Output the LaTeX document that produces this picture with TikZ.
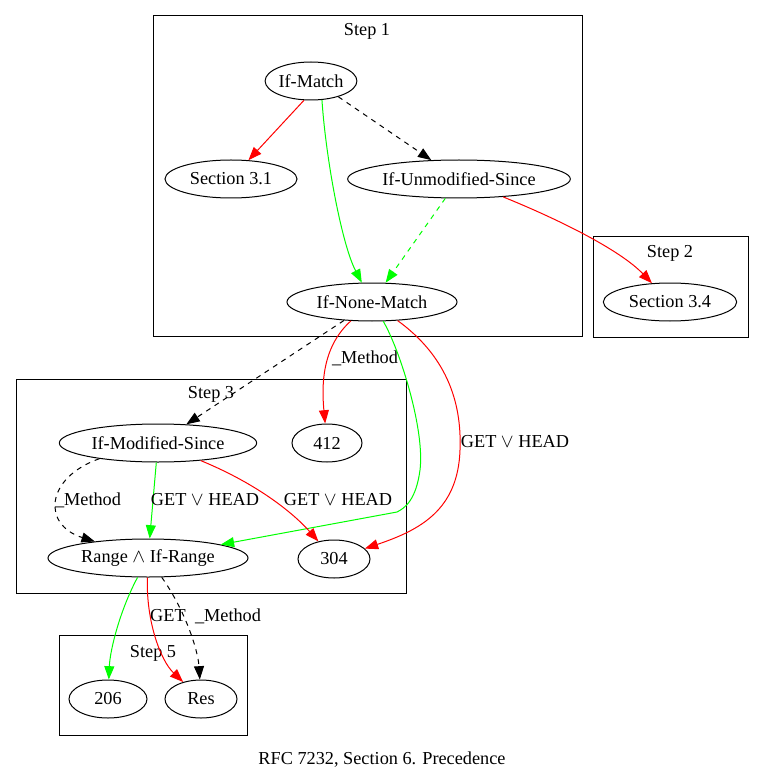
\documentclass[tikz,border=0pt]{standalone}
\usepackage{fontspec}
\setmainfont{Liberation Serif}
\usetikzlibrary{shapes.geometric,arrows.meta}

\begin{document}
\begin{tikzpicture}[x=0.75pt,y=-0.75pt,
        font=\fontsize{13.7}{16}\selectfont,
        state/.style={draw,ellipse,line width=0.75pt,inner sep=0pt,minimum height=28.5pt},
        cluster/.style={draw,line width=0.75pt},
        edge/.style={line width=0.75pt,-{Triangle[length=10pt,width=7.5pt]}},
        dashedge/.style={edge,dash pattern=on 3.75pt off 3.75pt},
        lbl/.style={inner sep=1pt}]
        \useasboundingbox (0,0) rectangle (764,780);
        % clusters
        \draw [cluster] (153,16) rectangle (582,336);
        \node (stepone) at (367,31) {Step 1};
        \draw [cluster] (593,237) rectangle (748,337);
        \node (steptwo) at (670,253) {Step 2};
        \draw [cluster] (16,379) rectangle (406,593);
        \node (stepthree) at (211,394) {Step 3};
        \draw [cluster] (59,635) rectangle (247,735);
        \node (stepfive) at (153,653) {Step 5};
        % nodes
        \node [state,minimum width=67.5pt] (ifmatch) at (311,81) {If-Match};
        \node [state,minimum width=99pt] (secthreeone) at (231,179) {Section 3.1};
        \node [state,minimum width=167pt] (ifunmod) at (459,179) {If-Unmodified-Since};
        \node [state,minimum width=127.5pt] (ifnone) at (372,302) {If-None-Match};
        \node [state,minimum width=100pt] (secthreefour) at (670,302) {Section 3.4};
        \node [state,minimum width=148pt] (ifmod) at (158,443) {If-Modified-Since};
        \node [state,minimum width=52.5pt] (pf) at (327,443) {412};
        \node [state,minimum width=150pt] (range) at (148,558) {Range $\wedge$ If-Range};
        \node [state,minimum width=54pt] (nm) at (334,559) {304};
        \node [state,minimum width=58.5pt] (partial) at (108,699) {206};
        \node [state,minimum width=54pt] (res) at (201,699) {Res};
        % step 1 and 2
        \draw [edge,red] (ifmatch.-110) -- (secthreeone);
        \draw [dashedge] (ifmatch.-30) -- (ifunmod);
        \draw [edge,green] (ifmatch.-60) .. controls (326,160) and (342,245) .. (ifnone);
        \draw [dashedge,green] (ifunmod) -- (ifnone);
        \draw [edge,red] (ifunmod) .. controls (560,220) and (620,250) .. (secthreefour);
        % step 3
        \draw [dashedge] (ifnone) -- (ifmod);
        \draw [edge,red] (ifnone) .. controls (324,345) and (321,380) .. (pf);
        \node [lbl] (lmethodone) at (365,358) {\_Method};
        \draw [edge,green] (ifnone) .. controls (400,350) and (425,430) .. (420,470)
            .. controls (416,500) and (405,508) .. (397,512) -- (range);
        \draw [edge,red] (ifnone) .. controls (445,355) and (462,400) .. (460,450)
            .. controls (458,510) and (420,530) .. (nm);
        \node [lbl] (lgetone) at (515,442) {GET $\vee$ HEAD};
        \draw [dashedge] (ifmod.-165) .. controls (45,478) and (42,525) .. (range);
        \node [lbl] (lmethodtwo) at (88,500) {\_Method};
        \draw [edge,green] (ifmod) -- (range);
        \node [lbl] (lgettwo) at (205,500) {GET $\vee$ HEAD};
        \draw [edge,red] (ifmod) .. controls (260,485) and (295,515) .. (nm);
        \node [lbl] (lgetthree) at (338,500) {GET $\vee$ HEAD};
        % step 5
        \draw [edge,green] (range) .. controls (120,610) and (110,650) .. (partial);
        \draw [edge,red] (range) .. controls (146,620) and (160,660) .. (res);
        \node [lbl] (lgetfour) at (168,616) {GET};
        \draw [dashedge] (range) .. controls (185,610) and (198,650) .. (res);
        \node [lbl] (lmethodthree) at (228,616) {\_Method};
        \node (caption) at (382,760) {RFC 7232, Section 6. Precedence};
\end{tikzpicture}
\end{document}
